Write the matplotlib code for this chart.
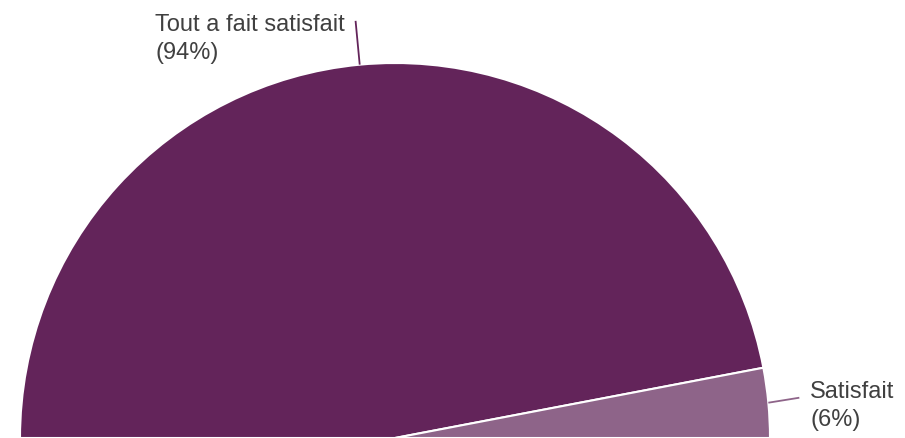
import numpy as np
import matplotlib
matplotlib.use("Agg")
import matplotlib.pyplot as plt

# ── data ──────────────────────────────────────────────────────────────────────
labels = ["Tout a fait satisfait", "Satisfait"]
percents = [94, 6]
colors = ["#63245a", "#8e6489"]

plt.rcParams["font.family"] = ["Liberation Sans", "DejaVu Sans"]

fig = plt.figure(figsize=(9.05, 4.38), dpi=100)
ax = fig.add_axes([0, 0, 1, 1])

# values sum to 0.5 -> semicircle
cx, cy, r = 395, 0, 375
fracs = [p / 200 for p in percents]
wedges, _ = ax.pie(fracs, colors=colors, normalize=False, startangle=180,
                   counterclock=False, center=(cx, cy), radius=r,
                   wedgeprops=dict(edgecolor="white", linewidth=1.5))

# labels with leader lines at wedge mid-angles
label_pos = [(155, 399), (810, 32)]
start = 180.0
for lab, p, col, (tx, ty) in zip(labels, percents, colors, label_pos):
    span = p / 100 * 180
    mid = np.deg2rad(start - span / 2)
    start -= span
    x0, y0 = cx + r * np.cos(mid), cy + r * np.sin(mid)
    if p > 50:
        x1, y1 = cx + (r + 44) * np.cos(mid), cy + (r + 44) * np.sin(mid)
    else:
        x1, y1 = x0 + 31, y0 + 5
    ax.plot([x0, x1], [y0, y1], color=col, lw=1.3, solid_capstyle="butt")
    ax.text(tx, ty, f"{lab}\n({p}%)", ha="left", va="center", fontsize=17,
            color="#404040", linespacing=1.4)

ax.set_xlim(0, 905)
ax.set_ylim(0, 438)
ax.set_aspect("equal")
ax.axis("off")

fig.savefig("out.png", dpi=100)
